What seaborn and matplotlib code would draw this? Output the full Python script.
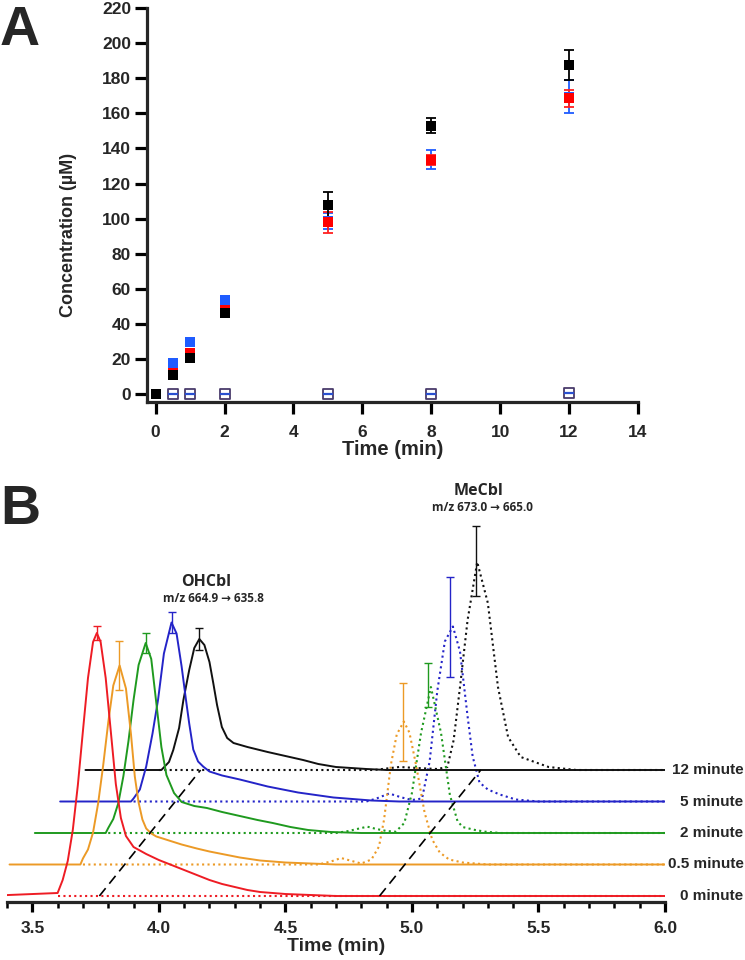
import matplotlib
matplotlib.use('Agg')
import matplotlib.pyplot as plt
import matplotlib.transforms as mtransforms
from matplotlib import font_manager
from matplotlib.ticker import MultipleLocator
import numpy as np
import seaborn as sns

# ---------------------------------------------------
# Panel A: concentration vs time
# ---------------------------------------------------
time_a = [0, 0.5, 1, 2, 5, 8, 12]
black_mean = [0, 10.6, 20.6, 46.3, 107.5, 153, 187.5]
black_err = [0, 1.5, 2, 2, 7.7, 4.5, 8.5]
red_mean = [0, 12, 23.5, 48, 97.8, 133.5, 168.5]
red_err = [0, 1, 1.5, 1.5, 6, 3, 5]
blue_mean = [0, 17.6, 29.7, 53.7, 98.5, 133.5, 169.5]
blue_err = [0, 1, 1.5, 2, 4.5, 5.5, 9.5]
zero_time = [0.5, 1, 2, 5, 8, 12]
zero_mean = [0, 0, 0, 0, 0, 0.5]

# ---------------------------------------------------
# Panel B: chromatograms (true retention time, signal a.u.)
# ---------------------------------------------------
trace_labels = ['0 minute', '0.5 minute', '2 minute', '5 minute', '12 minute']
trace_colors = ['#ee1c24', '#ec9a26', '#1f9a1f', '#2424c8', '#111111']

ohcbl_t = [
    [3.31, 3.60, 3.62, 3.64, 3.66, 3.68, 3.70, 3.72, 3.74, 3.755, 3.77, 3.79, 3.81, 3.83, 3.85, 3.87,
     3.90, 3.95, 4.00, 4.05, 4.10, 4.15, 4.20, 4.25, 4.30, 4.35, 4.40, 4.50, 4.60, 4.70, 6.00],
    [3.31, 3.59, 3.60, 3.62, 3.64, 3.66, 3.68, 3.70, 3.72, 3.745, 3.77, 3.79, 3.805, 3.82, 3.835, 3.85,
     3.87, 3.89, 3.94, 3.99, 4.05, 4.10, 4.16, 4.22, 4.30, 4.40, 4.50, 4.60, 6.00],
    [3.31, 3.59, 3.60, 3.62, 3.64, 3.66, 3.68, 3.70, 3.72, 3.748, 3.77, 3.79, 3.81, 3.83, 3.86, 3.89,
     3.94, 3.99, 4.05, 4.12, 4.19, 4.25, 4.32, 4.39, 4.48, 4.60, 6.00],
    [3.31, 3.59, 3.60, 3.625, 3.65, 3.675, 3.697, 3.72, 3.75, 3.77, 3.79, 3.807, 3.82, 3.836, 3.855,
     3.875, 3.90, 3.95, 4.02, 4.13, 4.25, 4.39, 4.54, 4.65, 6.00],
    [3.31, 3.61, 3.64, 3.657, 3.68, 3.697, 3.72, 3.74, 3.76, 3.78, 3.80, 3.815, 3.83, 3.849, 3.87,
     3.895, 3.95, 4.03, 4.10, 4.17, 4.23, 4.30, 4.42, 4.50, 6.00],
]
ohcbl_h = [
    [0, 3, 16, 35, 66, 111, 165, 218, 254, 263, 254, 218, 165, 112, 78, 60,
     49, 42, 36, 31, 26, 21, 16, 12, 9, 6, 4, 2, 1, 0, 0],
    [0, 0, 6, 15, 32, 61, 99, 142, 179, 199, 176, 130, 88, 62, 45, 36,
     31, 28, 24, 20, 16, 13, 10, 7, 4, 2, 1, 0, 0],
    [0, 0, 5, 14, 30, 57, 92, 133, 168, 190, 174, 130, 86, 58, 40, 31,
     27, 25, 21, 17, 13, 10, 6, 3, 1, 0, 0],
    [0, 0, 3, 12, 35, 68, 102, 148, 179, 168, 135, 102, 78, 52, 40,
     35, 30, 26, 22, 15, 9, 4, 1, 0, 0],
    [0, 0, 8, 20, 42, 70, 100, 122, 131, 125, 108, 87, 65, 43, 32,
     27, 23, 18, 14, 10, 6, 3, 1, 0, 0],
]

mecbl_t = [
    [3.60, 6.00],
    [3.60, 4.53, 4.58, 4.62, 4.67, 4.70, 4.74, 4.77, 4.79, 4.817, 4.84, 4.868, 4.89, 4.916, 4.95,
     4.98, 5.01, 5.047, 5.10, 5.20, 6.00],
    [3.60, 4.50, 4.55, 4.60, 4.624, 4.66, 4.70, 4.736, 4.77, 4.80, 4.836, 4.875, 4.915, 4.95, 4.98,
     5.00, 5.05, 5.09, 5.15, 6.00],
    [3.60, 4.52, 4.56, 4.61, 4.66, 4.70, 4.74, 4.77, 4.80, 4.83, 4.862, 4.89, 4.92, 4.94, 4.967,
     5.00, 5.047, 5.11, 5.20, 6.00],
    [3.60, 4.45, 4.55, 4.62, 4.70, 4.74, 4.765, 4.79, 4.82, 4.858, 4.90, 4.94, 4.98, 5.03, 5.14,
     5.25, 6.00],
]
mecbl_h = [
    [0, 0],
    [0, 0, 3, 6.5, 3, 1, 5, 18, 45, 100, 130, 143, 132, 100, 52,
     25, 12, 5, 2, 0, 0],
    [0, 0, 2, 5, 6.3, 4, 2, 1.3, 10, 40, 100, 146, 100, 38, 12,
     6, 3, 1.3, 0, 0],
    [0, 0, 3, 8, 4, 1.5, 3, 40, 110, 160, 175, 150, 85, 45, 19,
     12, 7, 2, 0, 0],
    [0, 0, 3, 2, 1, 3, 30, 83, 150, 208, 167, 83, 33, 13, 3,
     0, 0],
]

# peak error bars (true time, height, +/- error)
ohcbl_pk_t = [3.755, 3.742, 3.748, 3.75, 3.76]
ohcbl_pk_h = [263, 199, 190, 179, 131]
ohcbl_pk_err = [7, 24.5, 10, 10.5, 11]
mecbl_pk_t = [np.nan, 4.864, 4.863, 4.85, 4.855]
mecbl_pk_h = [np.nan, 143, 148, 174.5, 209]
mecbl_pk_err = [np.nan, 39, 22, 50, 35]

# waterfall layout
x_step = 0.1
y_step = 31.5
ohcbl_guide_t = 3.765
mecbl_guide_t = 4.872

# ---------------------------------------------------
# Style
# ---------------------------------------------------
sns.set_theme(style='ticks')
plt.rcParams['font.family'] = ['Liberation Sans', 'DejaVu Sans']
installed = {f.name for f in font_manager.fontManager.ttflist}
narrow = 'Liberation Sans Narrow' if 'Liberation Sans Narrow' in installed else 'Liberation Sans'
label_font = ['Open Sans', 'DejaVu Sans']

fig = plt.figure(figsize=(7.45, 9.6), dpi=100)

# ---------------------------------------------------
# Panel A
# ---------------------------------------------------
ax_a = fig.add_axes([147 / 745, 1 - 402 / 960, (638 - 147) / 745, (402 - 8) / 960])

for mean, err, col, ecol in [(blue_mean, blue_err, '#1f5cff', '#1f5cff'),
                             (red_mean, red_err, '#ff0000', '#ff2020'),
                             (black_mean, black_err, '#000000', '#000000')]:
    ax_a.errorbar(time_a, mean, yerr=err, fmt='none', ecolor=ecol, elinewidth=1.3,
                  capsize=3.6, capthick=1.3, zorder=3)
    sns.scatterplot(x=time_a, y=mean, marker='s', s=58, color=col, linewidth=0,
                    ax=ax_a, zorder=4, clip_on=False)

sns.scatterplot(x=zero_time, y=zero_mean, marker='s', s=45, color='white',
                edgecolor='#4a3b6b', linewidth=1.3, ax=ax_a, zorder=5, clip_on=False)
sns.scatterplot(x=zero_time, y=zero_mean, marker='_', s=45, color='#2a50d0',
                linewidth=1.6, ax=ax_a, zorder=6, clip_on=False)

ax_a.set_xlim(-0.25, 14)
ax_a.set_ylim(-4.5, 220)
ax_a.xaxis.set_major_locator(MultipleLocator(2))
ax_a.yaxis.set_major_locator(MultipleLocator(20))
sns.despine(ax=ax_a)
for sp in ['left', 'bottom']:
    ax_a.spines[sp].set_linewidth(2.3)
ax_a.tick_params(axis='both', width=2.3, length=8.5, labelsize=12.5, color='black')
ax_a.tick_params(axis='x', pad=8)
ax_a.tick_params(axis='y', pad=3)
plt.setp(ax_a.get_xticklabels() + ax_a.get_yticklabels(), fontweight='bold')
ax_a.set_xlabel('Time (min)', fontsize=14.5, fontweight='bold', labelpad=0)
ax_a.set_ylabel('Concentration (µM)', fontsize=13, fontweight='bold')
ax_a.yaxis.set_label_coords(-0.143, 0.424)

# ---------------------------------------------------
# Panel B
# ---------------------------------------------------
ax_b = fig.add_axes([7 / 745, 1 - 902 / 960, (665 - 7) / 745, (902 - 440) / 960])
ax_b.patch.set_visible(False)

for i in reversed(range(len(trace_labels))):
    shift = i * x_step
    offset = i * y_step
    col = trace_colors[i]
    sns.lineplot(x=np.array(mecbl_t[i]) + shift, y=np.array(mecbl_h[i]) + offset,
                 color=col, linewidth=1.5, linestyle=(0, (1, 1.6)),
                 estimator=None, sort=False, ax=ax_b, zorder=2)
    sns.lineplot(x=np.array(ohcbl_t[i]) + shift, y=np.array(ohcbl_h[i]) + offset,
                 color=col, linewidth=1.4, estimator=None, sort=False, ax=ax_b, zorder=3)
    ax_b.errorbar(ohcbl_pk_t[i] + shift, ohcbl_pk_h[i] + offset, yerr=ohcbl_pk_err[i],
                  fmt='none', ecolor=col, elinewidth=1.0, capsize=3.2, capthick=1.0, zorder=4)
    if not np.isnan(mecbl_pk_t[i]):
        ax_b.errorbar(mecbl_pk_t[i] + shift, mecbl_pk_h[i] + offset, yerr=mecbl_pk_err[i],
                      fmt='none', ecolor=col, elinewidth=1.0, capsize=3.2, capthick=1.0, zorder=4)

n_last = len(trace_labels) - 1
for t0 in [ohcbl_guide_t, mecbl_guide_t]:
    ax_b.plot([t0, t0 + n_last * x_step], [0, n_last * y_step], color='black',
              linewidth=1.2, linestyle=(0, (6, 3.5)), zorder=5)

lab_tr = mtransforms.blended_transform_factory(fig.transFigure, ax_b.transData)
for i, lab in enumerate(trace_labels):
    ax_b.text(0.998, i * y_step, lab, transform=lab_tr, ha='right', va='center',
              fontsize=11, fontweight='bold', family=narrow, clip_on=False)

ax_b.text(4.186, 314, 'OHCbl', ha='center', va='center', fontsize=11.5,
          fontweight='bold', family=label_font)
ax_b.text(4.214, 297, 'm/z 664.9 → 635.8', ha='center', va='center', fontsize=8.5,
          fontweight='bold', family=label_font)
ax_b.text(5.262, 405, 'MeCbl', ha='center', va='center', fontsize=11.5,
          fontweight='bold', family=label_font)
ax_b.text(5.28, 388, 'm/z 673.0 → 665.0', ha='center', va='center', fontsize=8.5,
          fontweight='bold', family=label_font)

ax_b.set_xlim(3.4, 6.0)
ax_b.set_ylim(-6, 456)
ax_b.set_yticks([])
ax_b.xaxis.set_major_locator(MultipleLocator(0.5))
ax_b.xaxis.set_minor_locator(MultipleLocator(0.1))
for sp in ['left', 'top', 'right']:
    ax_b.spines[sp].set_visible(False)
ax_b.spines['bottom'].set_linewidth(2.3)
ax_b.tick_params(axis='x', which='major', width=2.3, length=7, pad=7, labelsize=12.5, color='black')
ax_b.tick_params(axis='x', which='minor', width=1.8, length=4.3, color='black')
ax_b.set_xticklabels([f'{v:.1f}' for v in ax_b.get_xticks()], fontweight='bold', family=narrow)
ax_b.set_xlabel('Time (min)', fontsize=14, fontweight='bold', family=narrow, labelpad=1)
ax_b.set_ylabel('')

# panel letters
fig.text(0.0, 1 - 5 / 960, 'A', fontsize=40, fontweight='bold', ha='left', va='top')
fig.text(0.0, 1 - 484 / 960, 'B', fontsize=40, fontweight='bold', ha='left', va='top')

fig.savefig('out.png', dpi=100)
